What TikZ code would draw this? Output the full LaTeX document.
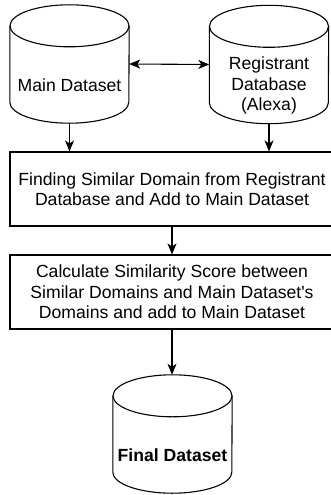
\documentclass[tikz,border=0pt]{standalone}
\usepackage{fontspec}
\setmainfont{Liberation Sans}
\usetikzlibrary{arrows.meta}

\begin{document}
\begin{tikzpicture}[x=1pt,y=1pt,
    >={Stealth[length=11pt,width=9pt,inset=3pt]},
    dbcyl/.style={minimum width=119pt, minimum height=118pt, inner sep=0pt},
    dbtext/.style={align=center, font=\fontsize{17.6}{20.5}\selectfont},
    stepbox/.style={draw, line width=1.1pt, minimum width=324pt, minimum height=74pt,
      align=center, font=\fontsize{17.6}{20.5}\selectfont},
    link/.style={line width=1.1pt, ->}]

    % Fix the page size
    \useasboundingbox (0,0) rectangle (331,-495);

    % Set the ellipse radii of the databases
    \pgfmathsetlengthmacro{\rx}{59.5pt}
    \pgfmathsetlengthmacro{\ry}{21pt}

    % Place the databases
    \node[dbcyl] (maindb) at (69.5, -64) {};
    \node[dbcyl] (regdb) at (269, -64.5) {};
    \node[dbcyl] (finaldb) at (172.5, -434) {};

    % Draw the databases
    \foreach \db in {maindb, regdb, finaldb} {
      \draw[line width=1.1pt] ([yshift=-\ry]\db.north west) -- ([yshift=\ry]\db.south west)
        arc[start angle=180, end angle=360, x radius=\rx, y radius=\ry]
        -- ([yshift=-\ry]\db.north east);
      \draw[line width=1.1pt] ([yshift=-\ry]\db.north) ellipse[x radius=\rx, y radius=\ry];
    }

    % Add labels to the databases
    \node[dbtext] (mainlbl) at ([yshift=-\ry]maindb.center) {Main Dataset};
    \node[dbtext] (reglbl) at ([yshift=-\ry]regdb.center) {Registrant\\Database\\(Alexa)};
    \node[dbtext, font=\fontsize{17.6}{20.5}\selectfont\bfseries] (finallbl) at ([yshift=-\ry]finaldb.center) {Final Dataset};

    % Draw the process steps
    \node[stepbox] (findstep) at (172, -189) {Finding Similar Domain from Registrant\\Database and Add to Main Dataset};
    \node[stepbox] (scorestep) at (172, -292) {Calculate Similarity Score between\\Similar Domains and Main Dataset\textquotesingle s\\Domains and add to Main Dataset};

    % Draw the arrows
    \draw[link, <->] (maindb.east) -- (regdb.west);
    \draw[link] (maindb.south) -- (maindb.south |- findstep.north);
    \draw[link] (regdb.south) -- (regdb.south |- findstep.north);
    \draw[link] (findstep.south) -- (scorestep.north);
    \draw[link] (scorestep.south) -- (scorestep.south |- finaldb.north);
  \end{tikzpicture}
\end{document}
